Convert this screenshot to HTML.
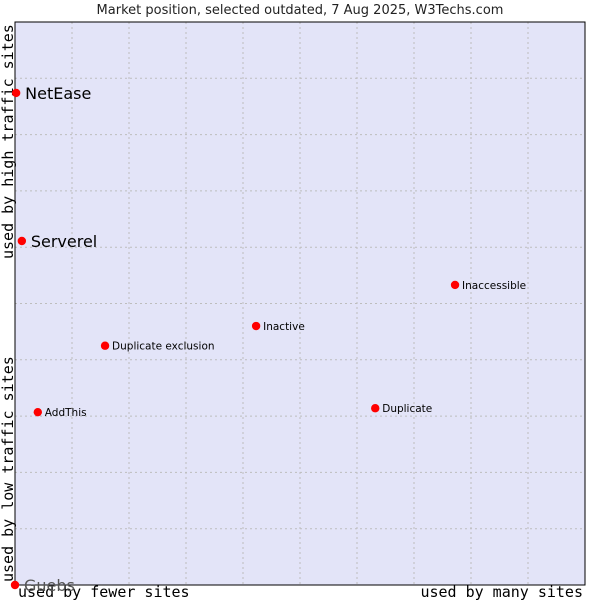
<!DOCTYPE html>
<html><head><meta charset="utf-8"><style>
body{margin:0;background:#fff;width:600px;height:600px;overflow:hidden}
svg{display:block}
</style></head><body>
<svg width="600" height="600" xmlns="http://www.w3.org/2000/svg">
<text x="300" y="14" text-anchor="middle" font-family="DejaVu Sans, sans-serif" font-size="13" fill="#222">Market position, selected outdated, 7 Aug 2025, W3Techs.com</text>
<rect x="15" y="22" width="570" height="563" fill="#e3e4f8"/>
<g id="grid"></g>
<rect x="15" y="22" width="570" height="563" fill="none" stroke="#000" stroke-width="1"/>
<text transform="translate(13,259) rotate(-90)" font-family="DejaVu Sans Mono, Liberation Mono, monospace" font-size="15" fill="#000">used by high traffic sites</text>
<text transform="translate(13,582) rotate(-90)" font-family="DejaVu Sans Mono, Liberation Mono, monospace" font-size="15" fill="#000">used by low traffic sites</text>
<text x="18" y="597" font-family="DejaVu Sans Mono, Liberation Mono, monospace" font-size="15" fill="#000">used by fewer sites</text>
<text x="583" y="597" text-anchor="end" font-family="DejaVu Sans Mono, Liberation Mono, monospace" font-size="15" fill="#000">used by many sites</text>
<g id="points"></g>
</svg>
<script>
const names=["NetEase","Serverel","Inaccessible","Inactive","Duplicate exclusion","AddThis","Duplicate","Guebs"];
const xVals=[0.2,1.2,77.2,42.3,15.8,4.0,63.2,0];
const yVals=[87.4,61.1,53.3,46.0,42.5,30.7,31.4,0];
const bigLabel=[true,true,false,false,false,false,false,true];
const L=15,T=22,W=570,H=563;
const sx=v=>L+v/100*W, sy=v=>T+H-v/100*H;
const NS="http://www.w3.org/2000/svg";
const g=document.getElementById('grid');
for(let i=1;i<10;i++){
 const a=document.createElementNS(NS,'line');
 a.setAttribute('x1',sx(i*10));a.setAttribute('x2',sx(i*10));a.setAttribute('y1',T);a.setAttribute('y2',T+H);
 a.setAttribute('stroke','#bdbdbd');a.setAttribute('stroke-dasharray','2,3');
 
 
 g.appendChild(a);
 const b=document.createElementNS(NS,'line');
 b.setAttribute('y1',sy(i*10));b.setAttribute('y2',sy(i*10));b.setAttribute('x1',L);b.setAttribute('x2',L+W);
 b.setAttribute('stroke','#bdbdbd');b.setAttribute('stroke-dasharray','2,3');
 
 
 g.appendChild(b);
}
const p=document.getElementById('points');
names.forEach((n,i)=>{
 const x=sx(xVals[i]),y=sy(yVals[i]);
 const c=document.createElementNS(NS,'circle');
 c.setAttribute('cx',x);c.setAttribute('cy',y);c.setAttribute('r',4.2);c.setAttribute('fill','#f00');
 
 
 p.appendChild(c);
 const t=document.createElementNS(NS,'text');
 t.setAttribute('x',x+(bigLabel[i]?9:7));t.setAttribute('y',y+(bigLabel[i]?6:4));
 t.setAttribute('font-family','DejaVu Sans, sans-serif');
 t.setAttribute('font-size',bigLabel[i]?'16':'10.5');
 t.setAttribute('fill',n==='Guebs'?'#555':'#000');
 t.textContent=n;
 
 
 p.appendChild(t);
});
</script>
</body></html>
